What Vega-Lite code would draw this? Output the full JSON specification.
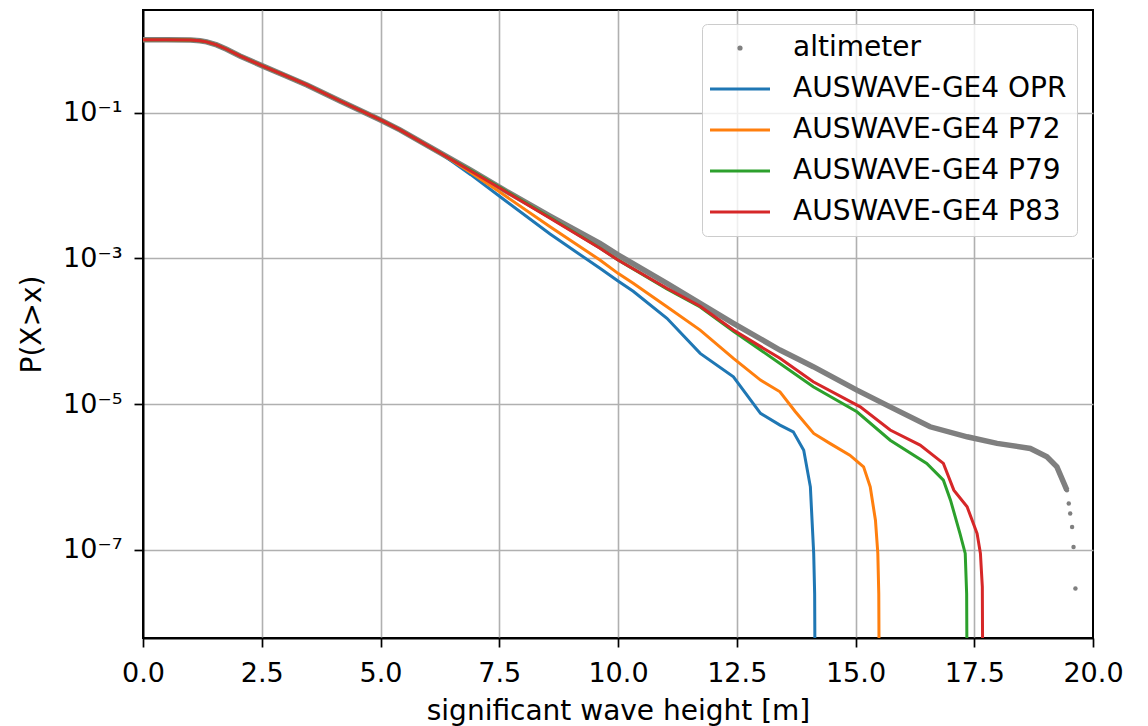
{
  "$schema": "https://vega.github.io/schema/vega-lite/v6.json",
  "width": 950,
  "height": 628,
  "autosize": {"type": "none"},
  "padding": {"left": 143, "top": 10, "right": 55, "bottom": 88},
  "background": "white",
  "config": {"view": {"stroke": "#000", "strokeWidth": 2}, "font": "DejaVu Sans"},
  "data": {"values": [
    {"s":"altimeter","h":0,"p":1.0},{"s":"altimeter","h":0.5,"p":0.998},{"s":"altimeter","h":1.0,"p":0.99},{"s":"altimeter","h":1.2,"p":0.97},{"s":"altimeter","h":1.34,"p":0.935},{"s":"altimeter","h":1.55,"p":0.85},{"s":"altimeter","h":1.76,"p":0.741},{"s":"altimeter","h":2.04,"p":0.6},{"s":"altimeter","h":2.55,"p":0.428},{"s":"altimeter","h":3.0,"p":0.321},{"s":"altimeter","h":3.45,"p":0.24},{"s":"altimeter","h":4.15,"p":0.1445},{"s":"altimeter","h":5.0,"p":0.0794},{"s":"altimeter","h":5.41,"p":0.058},{"s":"altimeter","h":6.25,"p":0.0282},
    {"s":"altimeter","h":6.9,"p":0.0162},{"s":"altimeter","h":7.52,"p":0.00933},{"s":"altimeter","h":8.57,"p":0.0038},{"s":"altimeter","h":9.62,"p":0.00161},{"s":"altimeter","h":10.0,"p":0.00112},{"s":"altimeter","h":11.03,"p":0.000455},{"s":"altimeter","h":12.43,"p":0.0001285},{"s":"altimeter","h":13.41,"p":0.0000553},{"s":"altimeter","h":13.83,"p":0.0000403},{"s":"altimeter","h":14.11,"p":0.0000327},{"s":"altimeter","h":15.03,"p":0.0000156},{"s":"altimeter","h":15.73,"p":0.0000092},{"s":"altimeter","h":16.57,"p":0.0000049},{"s":"altimeter","h":17.35,"p":0.00000357},{"s":"altimeter","h":17.98,"p":0.0000029},{"s":"altimeter","h":18.68,"p":0.00000247},{"s":"altimeter","h":19.03,"p":0.0000019},{"s":"altimeter","h":19.24,"p":0.00000138},{"s":"altimeter","h":19.45,"p":0.000000662},
    {"s":"altimeter","h":19.49,"p":0.000000435},{"s":"altimeter","h":19.52,"p":0.000000317},{"s":"altimeter","h":19.56,"p":0.000000207},{"s":"altimeter","h":19.59,"p":0.00000011},{"s":"altimeter","h":19.63,"p":0.0000000296},

    {"s":"AUSWAVE-GE4 OPR","h":0,"p":1.0},{"s":"AUSWAVE-GE4 OPR","h":0.5,"p":0.998},{"s":"AUSWAVE-GE4 OPR","h":1.0,"p":0.99},{"s":"AUSWAVE-GE4 OPR","h":1.2,"p":0.97},{"s":"AUSWAVE-GE4 OPR","h":1.34,"p":0.935},{"s":"AUSWAVE-GE4 OPR","h":1.55,"p":0.85},{"s":"AUSWAVE-GE4 OPR","h":1.76,"p":0.741},{"s":"AUSWAVE-GE4 OPR","h":2.04,"p":0.6},{"s":"AUSWAVE-GE4 OPR","h":2.55,"p":0.428},{"s":"AUSWAVE-GE4 OPR","h":3.0,"p":0.321},{"s":"AUSWAVE-GE4 OPR","h":3.45,"p":0.24},{"s":"AUSWAVE-GE4 OPR","h":4.15,"p":0.1445},{"s":"AUSWAVE-GE4 OPR","h":5.0,"p":0.0794},{"s":"AUSWAVE-GE4 OPR","h":5.41,"p":0.058},{"s":"AUSWAVE-GE4 OPR","h":6.25,"p":0.0282},
    {"s":"AUSWAVE-GE4 OPR","h":6.9,"p":0.0141},{"s":"AUSWAVE-GE4 OPR","h":7.52,"p":0.00703},{"s":"AUSWAVE-GE4 OPR","h":8.57,"p":0.00216},{"s":"AUSWAVE-GE4 OPR","h":9.62,"p":0.000731},{"s":"AUSWAVE-GE4 OPR","h":10.0,"p":0.00049},{"s":"AUSWAVE-GE4 OPR","h":10.32,"p":0.000355},{"s":"AUSWAVE-GE4 OPR","h":11.03,"p":0.000151},{"s":"AUSWAVE-GE4 OPR","h":11.73,"p":0.0000498},{"s":"AUSWAVE-GE4 OPR","h":12.43,"p":0.0000238},{"s":"AUSWAVE-GE4 OPR","h":13.0,"p":0.00000748},{"s":"AUSWAVE-GE4 OPR","h":13.41,"p":0.00000516},{"s":"AUSWAVE-GE4 OPR","h":13.69,"p":0.00000418},{"s":"AUSWAVE-GE4 OPR","h":13.91,"p":0.00000234},{"s":"AUSWAVE-GE4 OPR","h":14.05,"p":0.000000735},{"s":"AUSWAVE-GE4 OPR","h":14.12,"p":0.0000000895},{"s":"AUSWAVE-GE4 OPR","h":14.14,"p":0.0000000251},{"s":"AUSWAVE-GE4 OPR","h":14.15,"p":0.000000001},

    {"s":"AUSWAVE-GE4 P72","h":0,"p":1.0},{"s":"AUSWAVE-GE4 P72","h":0.5,"p":0.998},{"s":"AUSWAVE-GE4 P72","h":1.0,"p":0.99},{"s":"AUSWAVE-GE4 P72","h":1.2,"p":0.97},{"s":"AUSWAVE-GE4 P72","h":1.34,"p":0.935},{"s":"AUSWAVE-GE4 P72","h":1.55,"p":0.85},{"s":"AUSWAVE-GE4 P72","h":1.76,"p":0.741},{"s":"AUSWAVE-GE4 P72","h":2.04,"p":0.6},{"s":"AUSWAVE-GE4 P72","h":2.55,"p":0.428},{"s":"AUSWAVE-GE4 P72","h":3.0,"p":0.321},{"s":"AUSWAVE-GE4 P72","h":3.45,"p":0.24},{"s":"AUSWAVE-GE4 P72","h":4.15,"p":0.1445},{"s":"AUSWAVE-GE4 P72","h":5.0,"p":0.0794},{"s":"AUSWAVE-GE4 P72","h":5.41,"p":0.058},{"s":"AUSWAVE-GE4 P72","h":6.25,"p":0.0282},
    {"s":"AUSWAVE-GE4 P72","h":6.9,"p":0.0151},{"s":"AUSWAVE-GE4 P72","h":7.52,"p":0.00807},{"s":"AUSWAVE-GE4 P72","h":8.57,"p":0.00272},{"s":"AUSWAVE-GE4 P72","h":9.62,"p":0.000951},{"s":"AUSWAVE-GE4 P72","h":10.0,"p":0.000624},{"s":"AUSWAVE-GE4 P72","h":10.32,"p":0.000455},{"s":"AUSWAVE-GE4 P72","h":11.03,"p":0.000217},{"s":"AUSWAVE-GE4 P72","h":11.73,"p":0.000104},{"s":"AUSWAVE-GE4 P72","h":12.43,"p":0.0000425},{"s":"AUSWAVE-GE4 P72","h":13.0,"p":0.0000214},{"s":"AUSWAVE-GE4 P72","h":13.41,"p":0.0000148},{"s":"AUSWAVE-GE4 P72","h":13.73,"p":0.00000794},{"s":"AUSWAVE-GE4 P72","h":14.12,"p":0.00000397},{"s":"AUSWAVE-GE4 P72","h":14.46,"p":0.0000029},{"s":"AUSWAVE-GE4 P72","h":14.88,"p":0.000002},{"s":"AUSWAVE-GE4 P72","h":15.17,"p":0.00000138},{"s":"AUSWAVE-GE4 P72","h":15.31,"p":0.000000735},{"s":"AUSWAVE-GE4 P72","h":15.42,"p":0.000000256},{"s":"AUSWAVE-GE4 P72","h":15.47,"p":0.0000000895},{"s":"AUSWAVE-GE4 P72","h":15.49,"p":0.0000000251},{"s":"AUSWAVE-GE4 P72","h":15.5,"p":0.000000001},

    {"s":"AUSWAVE-GE4 P79","h":0,"p":1.0},{"s":"AUSWAVE-GE4 P79","h":0.5,"p":0.998},{"s":"AUSWAVE-GE4 P79","h":1.0,"p":0.99},{"s":"AUSWAVE-GE4 P79","h":1.2,"p":0.97},{"s":"AUSWAVE-GE4 P79","h":1.34,"p":0.935},{"s":"AUSWAVE-GE4 P79","h":1.55,"p":0.85},{"s":"AUSWAVE-GE4 P79","h":1.76,"p":0.741},{"s":"AUSWAVE-GE4 P79","h":2.04,"p":0.6},{"s":"AUSWAVE-GE4 P79","h":2.55,"p":0.428},{"s":"AUSWAVE-GE4 P79","h":3.0,"p":0.321},{"s":"AUSWAVE-GE4 P79","h":3.45,"p":0.24},{"s":"AUSWAVE-GE4 P79","h":4.15,"p":0.1445},{"s":"AUSWAVE-GE4 P79","h":5.0,"p":0.0794},{"s":"AUSWAVE-GE4 P79","h":5.41,"p":0.058},{"s":"AUSWAVE-GE4 P79","h":6.25,"p":0.0282},
    {"s":"AUSWAVE-GE4 P79","h":6.9,"p":0.0162},{"s":"AUSWAVE-GE4 P79","h":7.52,"p":0.00938},{"s":"AUSWAVE-GE4 P79","h":8.57,"p":0.00363},{"s":"AUSWAVE-GE4 P79","h":9.62,"p":0.001387},{"s":"AUSWAVE-GE4 P79","h":10.0,"p":0.000955},{"s":"AUSWAVE-GE4 P79","h":11.03,"p":0.00038},{"s":"AUSWAVE-GE4 P79","h":11.73,"p":0.000216},{"s":"AUSWAVE-GE4 P79","h":12.43,"p":0.0001},{"s":"AUSWAVE-GE4 P79","h":13.41,"p":0.0000363},{"s":"AUSWAVE-GE4 P79","h":14.11,"p":0.0000173},{"s":"AUSWAVE-GE4 P79","h":15.03,"p":0.00000787},{"s":"AUSWAVE-GE4 P79","h":15.73,"p":0.00000321},{"s":"AUSWAVE-GE4 P79","h":16.5,"p":0.00000154},{"s":"AUSWAVE-GE4 P79","h":16.85,"p":0.000000908},{"s":"AUSWAVE-GE4 P79","h":17.0,"p":0.000000483},{"s":"AUSWAVE-GE4 P79","h":17.2,"p":0.000000168},{"s":"AUSWAVE-GE4 P79","h":17.31,"p":0.0000000895},{"s":"AUSWAVE-GE4 P79","h":17.34,"p":0.0000000251},{"s":"AUSWAVE-GE4 P79","h":17.35,"p":0.000000001},

    {"s":"AUSWAVE-GE4 P83","h":0,"p":1.0},{"s":"AUSWAVE-GE4 P83","h":0.5,"p":0.998},{"s":"AUSWAVE-GE4 P83","h":1.0,"p":0.99},{"s":"AUSWAVE-GE4 P83","h":1.2,"p":0.97},{"s":"AUSWAVE-GE4 P83","h":1.34,"p":0.935},{"s":"AUSWAVE-GE4 P83","h":1.55,"p":0.85},{"s":"AUSWAVE-GE4 P83","h":1.76,"p":0.741},{"s":"AUSWAVE-GE4 P83","h":2.04,"p":0.6},{"s":"AUSWAVE-GE4 P83","h":2.55,"p":0.428},{"s":"AUSWAVE-GE4 P83","h":3.0,"p":0.321},{"s":"AUSWAVE-GE4 P83","h":3.45,"p":0.24},{"s":"AUSWAVE-GE4 P83","h":4.15,"p":0.1445},{"s":"AUSWAVE-GE4 P83","h":5.0,"p":0.0794},{"s":"AUSWAVE-GE4 P83","h":5.41,"p":0.058},{"s":"AUSWAVE-GE4 P83","h":6.25,"p":0.0282},
    {"s":"AUSWAVE-GE4 P83","h":6.9,"p":0.01585},{"s":"AUSWAVE-GE4 P83","h":7.52,"p":0.00916},{"s":"AUSWAVE-GE4 P83","h":8.57,"p":0.00355},{"s":"AUSWAVE-GE4 P83","h":9.62,"p":0.001377},{"s":"AUSWAVE-GE4 P83","h":10.0,"p":0.000951},{"s":"AUSWAVE-GE4 P83","h":11.03,"p":0.000389},{"s":"AUSWAVE-GE4 P83","h":11.73,"p":0.000221},{"s":"AUSWAVE-GE4 P83","h":12.43,"p":0.000104},{"s":"AUSWAVE-GE4 P83","h":13.41,"p":0.0000426},{"s":"AUSWAVE-GE4 P83","h":14.11,"p":0.0000203},{"s":"AUSWAVE-GE4 P83","h":15.1,"p":0.0000092},{"s":"AUSWAVE-GE4 P83","h":15.73,"p":0.00000442},{"s":"AUSWAVE-GE4 P83","h":16.36,"p":0.00000275},{"s":"AUSWAVE-GE4 P83","h":16.85,"p":0.00000154},{"s":"AUSWAVE-GE4 P83","h":17.07,"p":0.000000662},{"s":"AUSWAVE-GE4 P83","h":17.35,"p":0.000000391},{"s":"AUSWAVE-GE4 P83","h":17.56,"p":0.000000168},{"s":"AUSWAVE-GE4 P83","h":17.63,"p":0.0000000895},{"s":"AUSWAVE-GE4 P83","h":17.67,"p":0.0000000312},{"s":"AUSWAVE-GE4 P83","h":17.68,"p":0.000000001}
  ]},
  "encoding": {
    "x": {
      "field": "h", "type": "quantitative",
      "scale": {"domain": [0, 20], "nice": false, "zero": false},
      "axis": {
        "values": [0, 2.5, 5, 7.5, 10, 12.5, 15, 17.5, 20],
        "format": ".1f",
        "title": "significant wave height [m]",
        "labelFont": "DejaVu Sans", "labelFontSize": 27, "labelColor": "#000",
        "titleFont": "DejaVu Sans", "titleFontSize": 28, "titleFontWeight": "normal", "titleColor": "#000",
        "tickColor": "#000", "tickSize": 9, "tickWidth": 1.7,
        "domainColor": "#000", "domainWidth": 2,
        "gridColor": "#b0b0b0", "gridWidth": 1.6,
        "gridOpacity": {"condition": {"test": "datum.value <= 0 || datum.value >= 20", "value": 0}, "value": 1},
        "labelPadding": 13, "titlePadding": 11, "labelFlush": false, "labelOverlap": false
      }
    },
    "y": {
      "field": "p", "type": "quantitative",
      "scale": {"type": "log", "domain": [6.2e-9, 2.56], "nice": false},
      "axis": {
        "values": [0.1, 0.001, 0.00001, 0.0000001],
        "labelExpr": "datum.value > 0.05 ? '10⁻¹' : datum.value > 0.0005 ? '10⁻³' : datum.value > 0.000005 ? '10⁻⁵' : '10⁻⁷'",
        "title": "P(X>x)",
        "labelFont": "DejaVu Sans", "labelFontSize": 27, "labelColor": "#000",
        "titleFont": "DejaVu Sans", "titleFontSize": 28, "titleFontWeight": "normal", "titleColor": "#000",
        "tickColor": "#000", "tickSize": 9, "tickWidth": 1.7,
        "domainColor": "#000", "domainWidth": 2,
        "gridColor": "#b0b0b0", "gridWidth": 1.6,
        "labelPadding": 12, "titlePadding": 16, "labelOverlap": false
      }
    },
    "color": {
      "field": "s", "type": "nominal",
      "scale": {
        "domain": ["altimeter", "AUSWAVE-GE4 OPR", "AUSWAVE-GE4 P72", "AUSWAVE-GE4 P79", "AUSWAVE-GE4 P83"],
        "range": ["#7f7f7f", "#1f77b4", "#ff7f0e", "#2ca02c", "#d62728"]
      },
      "legend": {
        "orient": "none", "legendX": 559, "legendY": 14, "title": null,
        "labelFont": "DejaVu Sans", "labelFontSize": 28, "labelColor": "#000", "labelLimit": 600,
        "fillColor": "rgba(255,255,255,0.8)", "strokeColor": "#cccccc", "cornerRadius": 5,
        "padding": 10, "rowPadding": 13, "symbolSize": 100, "symbolStrokeWidth": 3,
        "symbolOffset": 14, "labelOffset": 39, "zindex": 1,
        "encode": {
          "symbols": {
            "update": {
              "shape": {"signal": "datum.value === 'altimeter' ? 'M-0.22,0A0.22,0.22 0 1,1 0.22,0A0.22,0.22 0 1,1 -0.22,0Z' : 'M-6,0L6,0'"},
              "fill": {"signal": "datum.value === 'altimeter' ? '#7f7f7f' : 'transparent'"},
              "stroke": {"signal": "datum.value === 'altimeter' ? 'transparent' : scale('color', datum.value)"},
              "strokeWidth": {"value": 3},
              "opacity": {"value": 1}
            }
          }
        }
      }
    }
  },
  "layer": [
    {
      "transform": [{"filter": "datum.s === 'altimeter' && datum.h <= 19.46"}],
      "mark": {"type": "line", "strokeWidth": 5.5, "clip": true}
    },
    {
      "transform": [{"filter": "datum.s === 'altimeter' && datum.h >= 19.44"}],
      "mark": {"type": "point", "filled": true, "size": 20, "opacity": 1, "clip": true}
    },
    {
      "transform": [{"filter": "datum.s !== 'altimeter'"}],
      "mark": {"type": "line", "strokeWidth": 3, "clip": true}
    }
  ]
}
